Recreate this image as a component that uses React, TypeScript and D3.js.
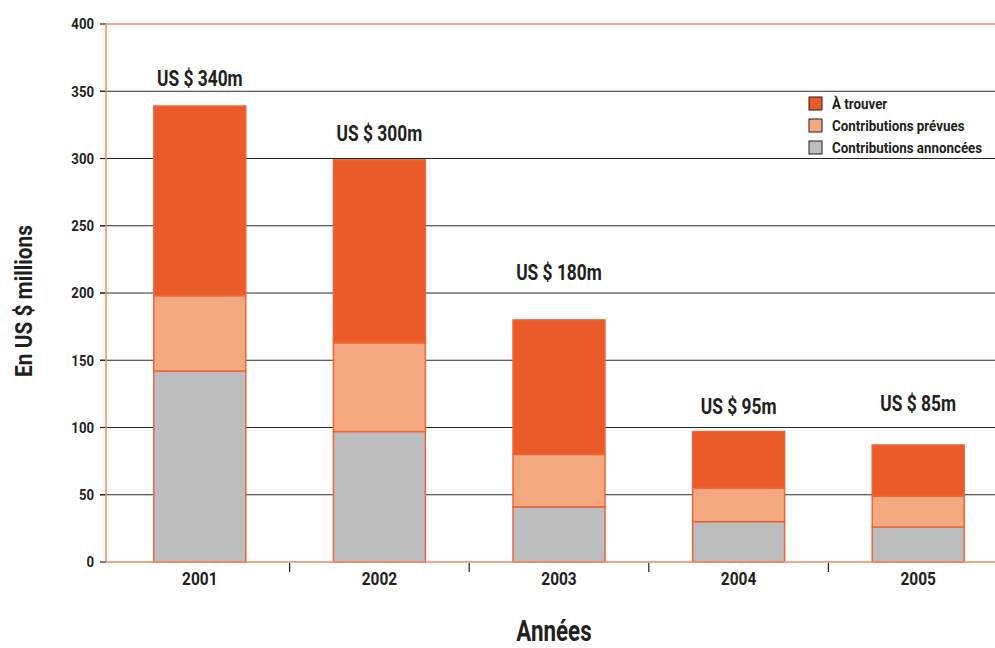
import React from "react";
import * as d3 from "d3";

const years = ["2001", "2002", "2003", "2004", "2005"];
const annoncees = [142, 97, 41, 30, 26];
const prevues = [56, 66, 39, 25, 23];
const aTrouver = [141, 136, 100, 42, 38];
const totalLabels = ["US $ 340m", "US $ 300m", "US $ 180m", "US $ 95m", "US $ 85m"];
const labelAnchors = [354, 313, 210, 110, 112];
const yTicks = [0, 50, 100, 150, 200, 250, 300, 350, 400];
const seriesNames = ["À trouver", "Contributions prévues", "Contributions annoncées"];

const W = 995, H = 648;
const FONT = "Roboto, 'Noto Sans', sans-serif";
const INK = "#231f20";
const C_TOP = "#eb5a29";
const C_PEACH = "#f5a981";
const C_GRAY = "#bcbdc0";
const C_EDGE = "#ee6535";
const C_AXIS = "#f28a62";
const SX = 0.8;

function T(props: {
  x: number; y: number; size: number; anchor?: string; sx?: number; rotate?: number; dy?: string; children: React.ReactNode;
}) {
  const { x, y, size, anchor = "start", sx = SX, rotate = 0, dy, children } = props;
  return (
    <text
      transform={`translate(${x},${y}) rotate(${rotate}) scale(${sx},1)`}
      textAnchor={anchor as any}
      fontSize={size}
      fontWeight="bold"
      fill={INK}
      dy={dy}
    >
      {children}
    </text>
  );
}

export default function App() {
  const x = d3.scaleBand<string>().domain(years).range([110, 1008]).padding(0);
  const y = d3.scaleLinear().domain([0, 400]).range([562, 24]);
  const barW = x.bandwidth() * 0.512;
  const cx = (yr: string) => x(yr)! + x.bandwidth() / 2;

  const rows = years.map((yr, i) => ({ yr, a: annoncees[i], p: prevues[i], t: aTrouver[i] }));
  const stack = d3.stack<any>().keys(["a", "p", "t"])(rows);
  const colors = [C_GRAY, C_PEACH, C_TOP];
  const legendColors = [C_TOP, C_PEACH, C_GRAY];

  return (
    <svg width={W} height={H} style={{ position: "absolute", left: 0, top: 0, background: "#fff" }} fontFamily={FONT}>
      {yTicks.map((t) => (
        <g key={t}>
          {t > 0 && t < 400 && (
            <line x1={100} x2={W} y1={y(t)} y2={y(t)} stroke="#2a2a2a" strokeWidth={1.2} />
          )}
          {t === 400 && <line x1={106} x2={W} y1={y(t)} y2={y(t)} stroke={C_AXIS} strokeWidth={1.5} />}
          <line x1={100} x2={106} y1={y(t)} y2={y(t)} stroke="#222" strokeWidth={1.2} />
          <T x={94} y={y(t)} size={15.5} anchor="end" sx={0.85} dy="0.35em">{t}</T>
        </g>
      ))}
      {stack.map((s, si) =>
        s.map((d, i) => (
          <rect
            key={si + "-" + i}
            x={cx(years[i]) - barW / 2}
            y={y(d[1])}
            width={barW}
            height={y(d[0]) - y(d[1])}
            fill={colors[si]}
            stroke={C_EDGE}
            strokeWidth={1.5}
          />
        ))
      )}
      <line x1={106} x2={106} y1={24} y2={562} stroke={C_AXIS} strokeWidth={1.5} />
      <line x1={106} x2={W} y1={562} y2={562} stroke={C_AXIS} strokeWidth={1.5} />
      {years.slice(1).map((yr) => (
        <line key={yr} x1={x(yr)!} x2={x(yr)!} y1={563} y2={572} stroke="#222" strokeWidth={1.2} />
      ))}
      {years.map((yr) => (
        <T key={yr} x={cx(yr)} y={585} size={18} anchor="middle" sx={0.86}>{yr}</T>
      ))}
      {years.map((yr, i) => (
        <T key={"l" + yr} x={cx(yr)} y={y(labelAnchors[i])} size={22} anchor="middle" sx={0.79}>
          {totalLabels[i]}
        </T>
      ))}
      {seriesNames.map((n, i) => (
        <g key={n} transform={`translate(809, ${97 + i * 22})`}>
          <rect x={0} y={0} width={13} height={13} fill={legendColors[i]} stroke={INK} strokeWidth={1} />
          <T x={23} y={12} size={15} sx={0.89}>{n}</T>
        </g>
      ))}
      <T x={32} y={301} size={24} anchor="middle" rotate={-90} sx={0.87}>En US $ millions</T>
      <T x={554} y={641} size={29} anchor="middle" sx={0.77}>Années</T>
    </svg>
  );
}
